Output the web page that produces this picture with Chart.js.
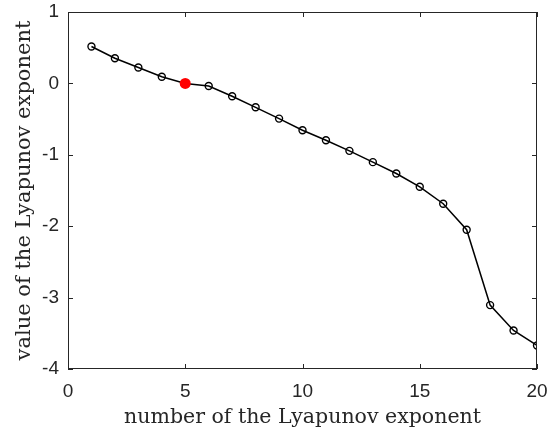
<!DOCTYPE html>
<html>
<head>
<meta charset="utf-8">
<script src="https://cdn.jsdelivr.net/npm/chart.js@4/dist/chart.umd.min.js"></script>
<style>
  html, body { margin: 0; padding: 0; background: #fff; }
  #wrap { width: 547px; height: 432px; }
</style>
</head>
<body>
<div id="wrap"><canvas id="lyap"></canvas></div>
<script>
let exponentNumber = [1, 2, 3, 4, 5, 6, 7, 8, 9, 10, 11, 12, 13, 14, 15, 16, 17, 18, 19, 20];
let exponentValue = [0.517, 0.353, 0.223, 0.093, 0.0, -0.037, -0.18, -0.335, -0.493, -0.656,
  -0.796, -0.945, -1.103, -1.262, -1.448, -1.685, -2.049, -3.105, -3.46, -3.67];
let highlighted = 5;
let xTicks = [0, 5, 10, 15, 20];
let yTicks = [-4, -3, -2, -1, 0, 1];

let points = exponentNumber.map((n, i) => ({ x: n, y: exponentValue[i] }));

// matlab style box with inward ticks on all four sides
let boxPlugin = {
  id: "box",
  afterDatasetsDraw(chart) {
    let ctx = chart.ctx;
    let a = chart.chartArea;
    let xs = chart.scales.x, ys = chart.scales.y;
    let len = 5;
    ctx.save();
    ctx.strokeStyle = "#262626";
    ctx.lineWidth = 1;
    ctx.strokeRect(a.left + 0.5, a.top + 0.5, a.right - a.left - 1, a.bottom - a.top - 1);
    xTicks.forEach(v => {
      let px = Math.round(xs.getPixelForValue(v)) + 0.5;
      ctx.beginPath();
      ctx.moveTo(px, a.bottom); ctx.lineTo(px, a.bottom - len);
      ctx.moveTo(px, a.top); ctx.lineTo(px, a.top + len);
      ctx.stroke();
    });
    yTicks.forEach(v => {
      let py = Math.round(ys.getPixelForValue(v)) + 0.5;
      ctx.beginPath();
      ctx.moveTo(a.left, py); ctx.lineTo(a.left + len, py);
      ctx.moveTo(a.right, py); ctx.lineTo(a.right - len, py);
      ctx.stroke();
    });
    ctx.restore();
  }
};

function noOverflow(s) {
  s.paddingLeft = 0; s.paddingRight = 0; s.paddingTop = 0; s.paddingBottom = 0;
}

let ctx = document.getElementById("lyap").getContext("2d");
new Chart(ctx, {
  type: "line",
  data: {
    datasets: [{
      data: points,
      borderColor: "#000",
      borderWidth: 1.5,
      tension: 0,
      pointRadius: c => c.raw && c.raw.x === highlighted ? 5.5 : 3.5,
      pointBorderWidth: c => c.raw && c.raw.x === highlighted ? 0 : 1.4,
      pointBorderColor: c => c.raw && c.raw.x === highlighted ? "#ff0000" : "#000",
      pointBackgroundColor: c => c.raw && c.raw.x === highlighted ? "#ff0000" : "rgba(0,0,0,0)"
    }]
  },
  options: {
    responsive: true,
    maintainAspectRatio: false,
    animation: false,
    layout: { padding: { top: 12, right: 10, left: 0, bottom: 0 } },
    plugins: { legend: { display: false }, tooltip: { enabled: false } },
    scales: {
      x: {
        type: "linear",
        min: 0, max: 20,
        afterFit: s => { s.height = 63; noOverflow(s); },
        afterBuildTicks: s => { s.ticks = xTicks.map(v => ({ value: v })); },
        grid: { display: false, drawTicks: false },
        border: { display: false },
        ticks: { color: "#262626", padding: 11, font: { family: "Liberation Sans", size: 19 }, maxRotation: 0 },
        title: {
          display: true,
          text: "number of the Lyapunov exponent",
          color: "#262626",
          font: { family: "DejaVu Serif", size: 20.5 },
          padding: { top: 0, bottom: 2 }
        }
      },
      y: {
        type: "linear",
        min: -4, max: 1,
        afterFit: s => { s.width = 68; noOverflow(s); },
        afterBuildTicks: s => { s.ticks = yTicks.map(v => ({ value: v })); },
        grid: { display: false, drawTicks: false },
        border: { display: false },
        ticks: { color: "#262626", padding: 9, font: { family: "Liberation Sans", size: 19 } },
        title: {
          display: true,
          text: "value of the Lyapunov exponent",
          color: "#262626",
          font: { family: "DejaVu Serif", size: 21 },
          padding: { top: 12, bottom: 0 }
        }
      }
    }
  },
  plugins: [boxPlugin]
});
</script>
</body>
</html>
